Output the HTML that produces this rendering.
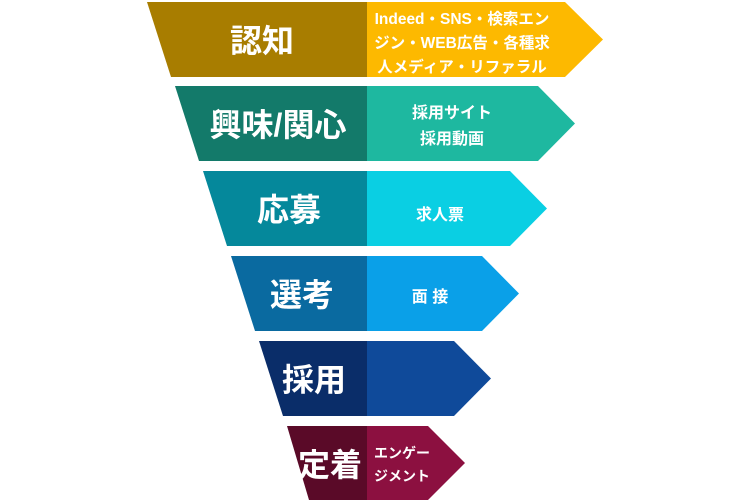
<!DOCTYPE html>
<html><head><meta charset="utf-8"><style>
html,body{margin:0;padding:0;background:#fff;}
svg{display:block;}
text{font-family:"Liberation Sans","Noto Sans CJK JP",sans-serif;fill:#fff;font-weight:bold;text-anchor:middle;}
</style></head><body>
<svg width="750" height="500" viewBox="0 0 750 500">
<!-- row1 -->
<polygon points="147,2 368,2 368,77 171,77" fill="#A87D00"/>
<polygon points="367,2 565,2 603,39.5 565,77 367,77" fill="#FDB900"/>
<text x="262" y="52" font-size="32">認知</text>
<text x="462" y="24" font-size="15.5">Indeed・SNS・検索エン</text>
<text x="462" y="48" font-size="15.5">ジン・WEB広告・各種求</text>
<text x="462" y="72" font-size="15.5">人メディア・リファラル</text>
<!-- row2 -->
<polygon points="175,86 368,86 368,161 199,161" fill="#137A6A"/>
<polygon points="367,86 538,86 575,123.5 538,161 367,161" fill="#1EB8A0"/>
<text x="278" y="136" font-size="32">興味/関心</text>
<text x="452" y="118" font-size="16">採用サイト</text>
<text x="452" y="144" font-size="16">採用動画</text>
<!-- row3 -->
<polygon points="203,171 368,171 368,246 227,246" fill="#05889B"/>
<polygon points="367,171 510,171 547,208.5 510,246 367,246" fill="#0ACFE3"/>
<text x="289" y="221" font-size="32">応募</text>
<text x="440" y="220" font-size="16">求人票</text>
<!-- row4 -->
<polygon points="231,256 368,256 368,331 255,331" fill="#0A6AA0"/>
<polygon points="367,256 482,256 519,293.5 482,331 367,331" fill="#0AA0E8"/>
<text x="302" y="306" font-size="32">選考</text>
<text x="430" y="302" font-size="16">面 接</text>
<!-- row5 -->
<polygon points="259,341 368,341 368,416 283,416" fill="#0A2D69"/>
<polygon points="367,341 454,341 491,378.5 454,416 367,416" fill="#0F4A9A"/>
<text x="314" y="391" font-size="32">採用</text>
<!-- row6 -->
<polygon points="287,426 368,426 368,500 309,500" fill="#5A0A28"/>
<polygon points="367,426 428,426 465,463 428,500 367,500" fill="#8C1040"/>
<text x="330" y="476" font-size="32">定着</text>
<text x="402" y="458" font-size="14">エンゲー</text>
<text x="402" y="481" font-size="14">ジメント</text>
</svg>
</body></html>
